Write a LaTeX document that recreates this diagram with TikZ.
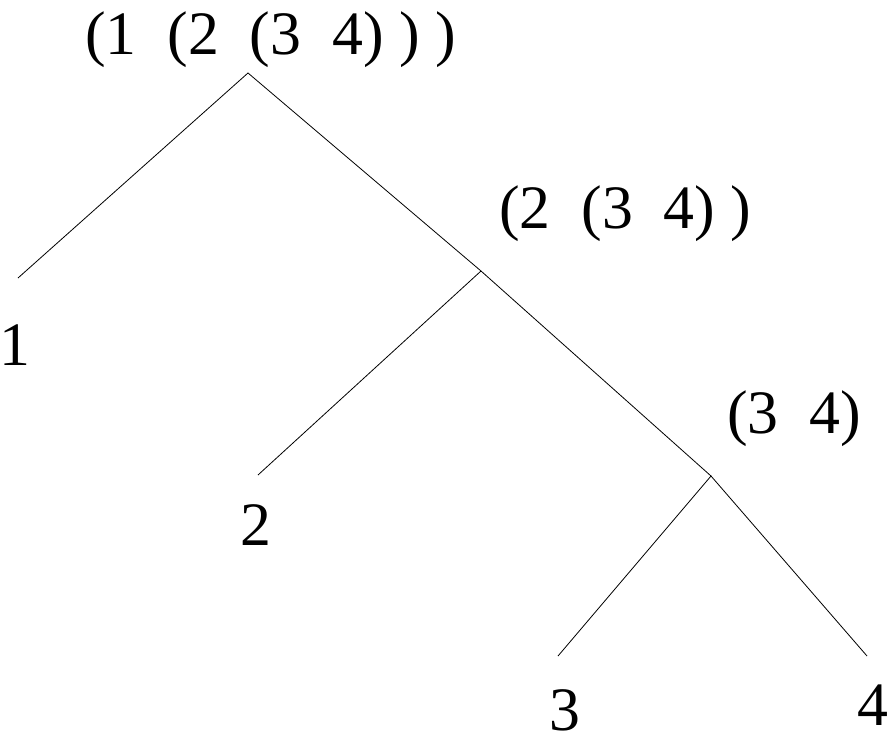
\documentclass[tikz,border=0pt]{standalone}
\usepackage{fontspec}
\setmainfont{Liberation Serif}
\tikzset{%
  tlabel/.style={inner sep=0,font=\fontsize{62}{62}\selectfont},
  tedge/.style={draw=black,line width=0.8bp}
}
\begin{document}
\begin{tikzpicture}[x=1bp,y=-1bp]
    \useasboundingbox (0,0) rectangle (888,737);
    \path
      (248,73) coordinate (r)
      (481,271) coordinate (s) (711,476) coordinate (t)
      (18,278) coordinate (l1) (258,475) coordinate (l2)
      (558,656) coordinate (l3) (867,656) coordinate (l4);
    \draw[tedge] (l1) -- (r) -- (s) -- (t);
    \draw[tedge] (s) -- (l2);
    \draw[tedge] (l3) -- (t) -- (l4);
    \path
      (85,55) node[tlabel,anchor=base west] (lr) {(1\ \ (2\ \ (3\ \ 4)\ )\ )}
      (499,228) node[tlabel,anchor=base west] (ls) {(2\ \ (3\ \ 4)\ )}
      (727,433) node[tlabel,anchor=base west] (lt) {(3\ \ 4)}
      (14.5,365) node[tlabel,anchor=base] (n1) {1}
      (256,545) node[tlabel,anchor=base] (n2) {2}
      (564.5,730) node[tlabel,anchor=base] (n3) {3}
      (872.5,725) node[tlabel,anchor=base] (n4) {4};
  \end{tikzpicture}
\end{document}
